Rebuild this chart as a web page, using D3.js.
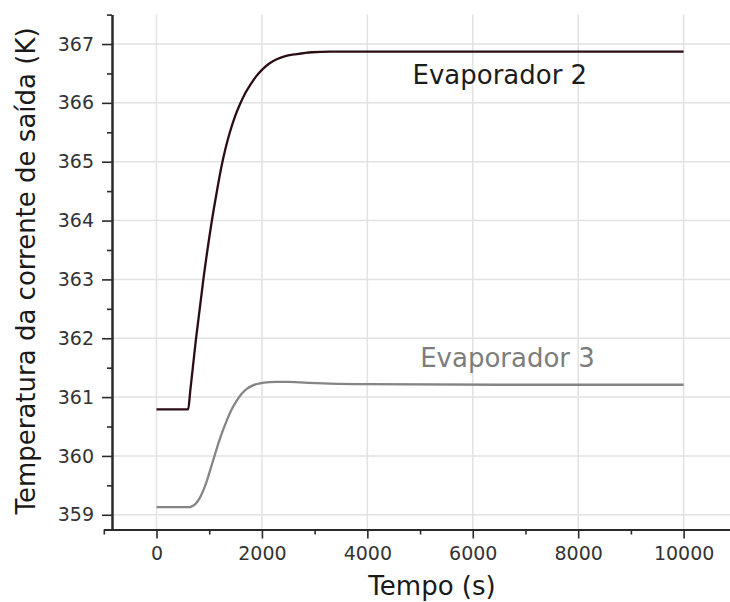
<!DOCTYPE html>
<html>
<head>
<meta charset="utf-8">
<script src="https://cdn.jsdelivr.net/npm/d3@7"></script>
<style>
  html, body { margin: 0; padding: 0; background: #ffffff; }
  svg { display: block; font-family: "DejaVu Sans", Verdana, sans-serif; }
</style>
</head>
<body>
<svg id="chart" width="730" height="602"></svg>
<script>
// ---- data ----
const evap2Time = [0, 600, 640, 744, 889, 1047, 1150, 1237, 1310, 1395, 1490, 1585, 1680, 1775, 1890, 2009, 2140, 2281, 2460, 2661, 2950, 3293, 4000, 6000, 8000, 10000];
const evap2Temp = [360.79, 360.79, 361.1, 361.95, 363.0, 363.98, 364.52, 364.94, 365.23, 365.51, 365.77, 365.98, 366.16, 366.30, 366.45, 366.57, 366.67, 366.74, 366.80, 366.83, 366.86, 366.87, 366.87, 366.87, 366.87, 366.87];
const evap3Time = [0, 600, 660, 720, 780, 840, 900, 960, 1016, 1110, 1205, 1332, 1420, 1522, 1620, 1712, 1830, 1965, 2150, 2281, 2500, 2724, 3293, 3990, 6500, 10000];
const evap3Temp = [359.13, 359.13, 359.14, 359.17, 359.23, 359.32, 359.44, 359.59, 359.75, 360.03, 360.30, 360.60, 360.78, 360.94, 361.06, 361.14, 361.20, 361.235, 361.255, 361.26, 361.26, 361.25, 361.23, 361.22, 361.21, 361.21];
const seriesNames = ["Evaporador 2", "Evaporador 3"];
const labelPos = [[4856, 366.32], [5002, 361.51]];
const xMajorTicks = [0, 2000, 4000, 6000, 8000, 10000];
const xMinorTicks = [-1000, 1000, 3000, 5000, 7000, 9000];
const yMajorTicks = [359, 360, 361, 362, 363, 364, 365, 366, 367];
const yMinorTicks = [359.5, 360.5, 361.5, 362.5, 363.5, 364.5, 365.5, 366.5, 367.5];
const xTitle = "Tempo (s)";
const yTitle = "Temperatura da corrente de saída (K)";

// ---- layout ----
const svg = d3.select("#chart");
const yAxisX = 112;
const xAxisY = 529.5;
const x = d3.scaleLinear().domain([-1000, 10880]).range([103.8, 730]);
const y = d3.scaleLinear().domain([358.75, 367.5]).range([xAxisY, 14.6]);
const colors = ["#2b0d14", "#858585"];
const textColors = ["#1c1c1c", "#7d7d7d"];

// gridlines
const grid = svg.append("g");
grid.selectAll("line.vx").data(xMajorTicks).enter().append("line")
  .attr("x1", d => x(d)).attr("x2", d => x(d))
  .attr("y1", y(367.5)).attr("y2", xAxisY)
  .attr("stroke", "#e2e2e2").attr("stroke-width", 1.5);
grid.selectAll("line.hy").data(yMajorTicks).enter().append("line")
  .attr("x1", yAxisX).attr("x2", 730)
  .attr("y1", d => y(d)).attr("y2", d => y(d))
  .attr("stroke", "#e2e2e2").attr("stroke-width", 1.5);

// lines
const line = d3.line().x(d => x(d[0])).y(d => y(d[1])).curve(d3.curveMonotoneX);
const series = [d3.zip(evap2Time, evap2Temp), d3.zip(evap3Time, evap3Temp)];
series.forEach((s, i) => {
  svg.append("path").datum(s).attr("d", line)
    .attr("fill", "none").attr("stroke", colors[i]).attr("stroke-width", 2.3)
    .attr("stroke-linejoin", "round");
});

// series labels
seriesNames.forEach((name, i) => {
  svg.append("text").attr("x", x(labelPos[i][0])).attr("y", y(labelPos[i][1]))
    .attr("font-size", 26).attr("fill", textColors[i]).text(name);
});

// axes
function styleAxis(g) {
  g.selectAll("path.domain").attr("stroke", "#2a2a2a").attr("stroke-width", 2);
  g.selectAll(".tick line").attr("stroke", "#2a2a2a").attr("stroke-width", 1.6);
  g.selectAll(".tick text").attr("fill", "#333").attr("font-size", 19)
    .attr("font-family", "DejaVu Sans, Verdana, sans-serif");
}
const yAxisG = svg.append("g").attr("transform", `translate(${yAxisX},0)`)
  .call(d3.axisLeft(y).tickValues(yMajorTicks).tickSize(10).tickSizeOuter(0).tickPadding(8).tickFormat(d3.format("d")));
styleAxis(yAxisG);
const yMinorG = svg.append("g").attr("transform", `translate(${yAxisX},0)`)
  .call(d3.axisLeft(y).tickValues(yMinorTicks).tickSize(5).tickSizeOuter(0).tickFormat(""));
styleAxis(yMinorG);

const xAxisG = svg.append("g").attr("transform", `translate(0,${xAxisY})`)
  .call(d3.axisBottom(x).tickValues(xMajorTicks).tickSize(9).tickSizeOuter(0).tickPadding(8).tickFormat(d3.format("d")));
styleAxis(xAxisG);
const xMinorG = svg.append("g").attr("transform", `translate(0,${xAxisY})`)
  .call(d3.axisBottom(x).tickValues(xMinorTicks).tickSize(5).tickSizeOuter(0).tickFormat(""));
styleAxis(xMinorG);

// titles
svg.append("text").attr("x", 432).attr("y", 595).attr("text-anchor", "middle")
  .attr("font-size", 26).attr("fill", "#1a1a1a").text(xTitle);
svg.append("text").attr("transform", "translate(35,271) rotate(-90)").attr("text-anchor", "middle")
  .attr("font-size", 26).attr("fill", "#1a1a1a").text(yTitle);
</script>
</body>
</html>
